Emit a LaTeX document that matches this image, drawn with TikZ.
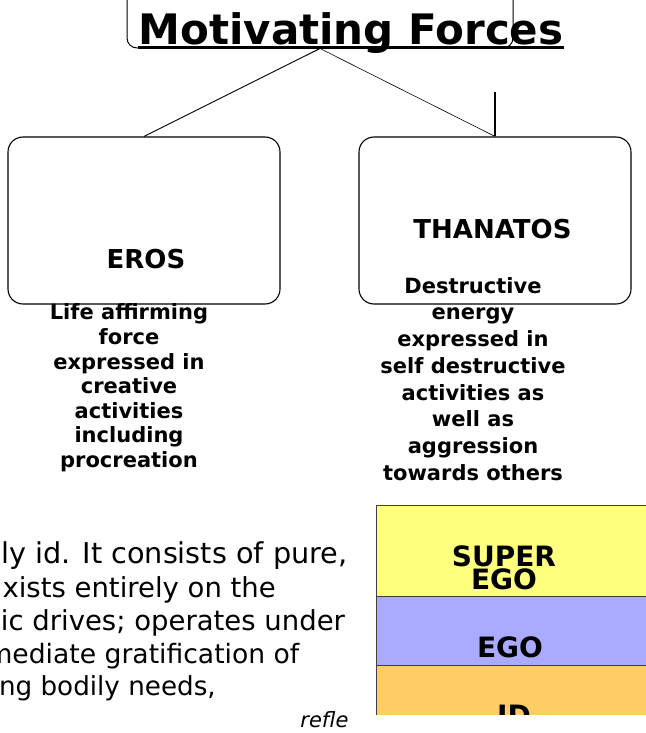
\documentclass[tikz,border=0pt]{standalone}
\usepackage{fontspec}
\setmainfont{DejaVu Sans}
\usetikzlibrary{positioning}

\definecolor{superego}{RGB}{255,255,128}
\definecolor{egocol}{RGB}{170,170,255}
\definecolor{idcol}{RGB}{255,204,102}

\begin{document}
\begin{tikzpicture}[x=1pt, y=-1pt, line width=1.1pt,
    bubble/.style={draw, rounded corners=15pt, minimum width=272pt, minimum height=167pt, inner sep=0pt},
    forcename/.style={font=\fontsize{26}{31}\selectfont\bfseries, inner sep=0pt, anchor=base},
    desc/.style={align=center, inner sep=0pt},
    para/.style={inner sep=0pt, anchor=base west},
    stackband/.style={draw=black!75, line width=1pt},
    bandtext/.style={font=\fontsize{28}{23}\selectfont\bfseries, inner sep=0pt}]
    \useasboundingbox (0,0) rectangle (645,733);
    % title
    \node[draw, rounded corners=10pt, minimum width=386pt, minimum height=80pt, inner sep=0pt, line width=1pt] (titlebox) at (320,8) {};
    \node[font=\fontsize{42}{50}\selectfont\bfseries, inner sep=0pt, anchor=base] (title) at (351,45) {Motivating Forces};
    \draw[line width=2.2pt] ([yshift=-2.5pt]title.base west) -- ([yshift=-2.5pt]title.base east);
    % the two forces
    \node[bubble] (eros) at (144,220.5) {};
    \node[bubble] (thanatos) at (495,220.5) {};
    \node[forcename] (erosname) at (146,268) {EROS};
    \node[forcename] (thanatosname) at (492.5,238) {THANATOS};
    \draw[line width=0.9pt] (titlebox.south) -- (eros.north);
    \draw[line width=0.6pt] (titlebox.south) -- (thanatos.north);
    \coordinate (stub) at (495,92);
    \draw (stub) -- (thanatos.north);
    \node[desc, font=\fontsize{21}{24.6}\selectfont\bfseries] (erosdesc) at (129,388)
        {Life affirming\\force\\expressed in\\creative\\activities\\including\\procreation};
    \node[desc, font=\fontsize{21}{26.7}\selectfont\bfseries] (thanatosdesc) at (473,378.9)
        {Destructive\\energy\\expressed in\\self destructive\\activities as\\well as\\aggression\\towards others};
    % text on the left
    \node[para, font=\fontsize{28.7}{33}\selectfont] (line1) at (0.5,563) {ly id. It consists of pure,};
    \node[para, font=\fontsize{27.5}{33}\selectfont] (line2) at (2,597) {xists entirely on the};
    \node[para, font=\fontsize{27.5}{33}\selectfont] (line3) at (-14,630) {sic drives; operates under};
    \node[para, font=\fontsize{26.6}{33}\selectfont] (line4) at (-14,663) {mediate gratification of};
    \node[para, font=\fontsize{26.2}{33}\selectfont] (line5) at (-1.5,695) {ng bodily needs,};
    \node[font=\fontsize{21}{25}\selectfont\itshape, inner sep=0pt, anchor=base east] (refle) at (349,727) {refle};
    % structure of the mind
    \begin{scope}
        \clip (376,504) rectangle (660,714);
        \foreach \ytop/\ybot/\col in {505/596/superego, 596/665/egocol, 665/730/idcol}
            \draw[stackband, fill=\col] (376,\ytop) rectangle (660,\ybot);
        \node[bandtext, align=center] (supername) at (504,568.3) {SUPER\\EGO};
        \node[bandtext, anchor=base] (egoname) at (510,657) {EGO};
        \node[bandtext, anchor=base] (idname) at (514,725) {ID};
    \end{scope}
\end{tikzpicture}
\end{document}
